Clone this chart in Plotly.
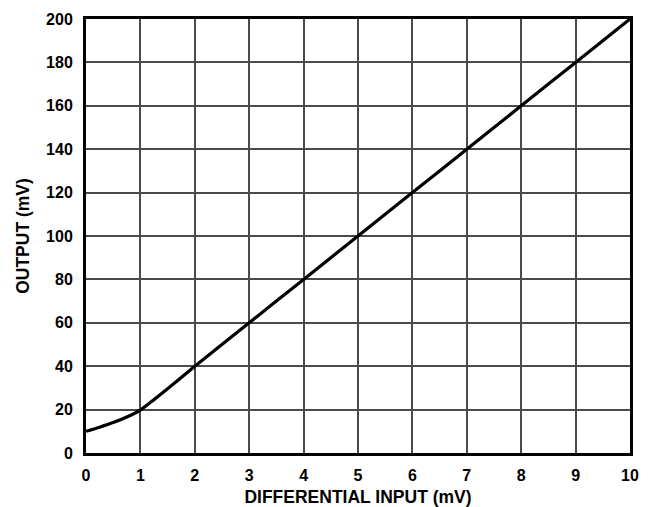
import plotly.graph_objects as go

x_input = [0, 0.25, 0.5, 0.75, 1.0, 1.25, 1.5, 2, 3, 4, 5, 6, 7, 8, 9, 10]
y_output = [10, 11.9, 14.0, 16.6, 19.8, 24.6, 29.6, 40, 60, 80, 100, 120, 140, 160, 180, 200]

x_ticks = list(range(0, 11))
y_ticks = list(range(0, 201, 20))

FONT = "Liberation Sans, Arial, sans-serif"

fig = go.Figure()
fig.add_trace(go.Scatter(x=x_input, y=y_output, mode="lines",
                         line=dict(color="black", width=3.2, shape="spline", smoothing=0.6),
                         showlegend=False, hoverinfo="skip", cliponaxis=False))

axis_common = dict(showgrid=True, gridcolor="#4a4a4a", gridwidth=1.5, zeroline=False,
                   showline=True, linecolor="black", linewidth=3, mirror=True,
                   automargin=False,
                   ticks="", tickfont=dict(family=FONT, size=16, color="black"))

fig.update_layout(
    width=641, height=499,
    margin=dict(l=78, r=19, t=11, b=54),
    paper_bgcolor="white", plot_bgcolor="white",
    font=dict(family=FONT, size=16, color="black"),
    xaxis=dict(range=[0, 10], tickvals=x_ticks, ticktext=[f"<b>{v}</b>" for v in x_ticks],
               ticklabelstandoff=6,
               title=dict(text="<b>DIFFERENTIAL INPUT (mV)</b>", standoff=10,
                          font=dict(family=FONT, size=17.5, color="black")),
               **axis_common),
    yaxis=dict(range=[0, 200], tickvals=y_ticks, ticktext=[f"<b>{v}</b>" for v in y_ticks],
               ticklabelstandoff=7,
               title=dict(text="<b>OUTPUT (mV)</b>", standoff=12,
                          font=dict(family=FONT, size=17.5, color="black")),
               **axis_common),
)

fig.write_html("out.html")
